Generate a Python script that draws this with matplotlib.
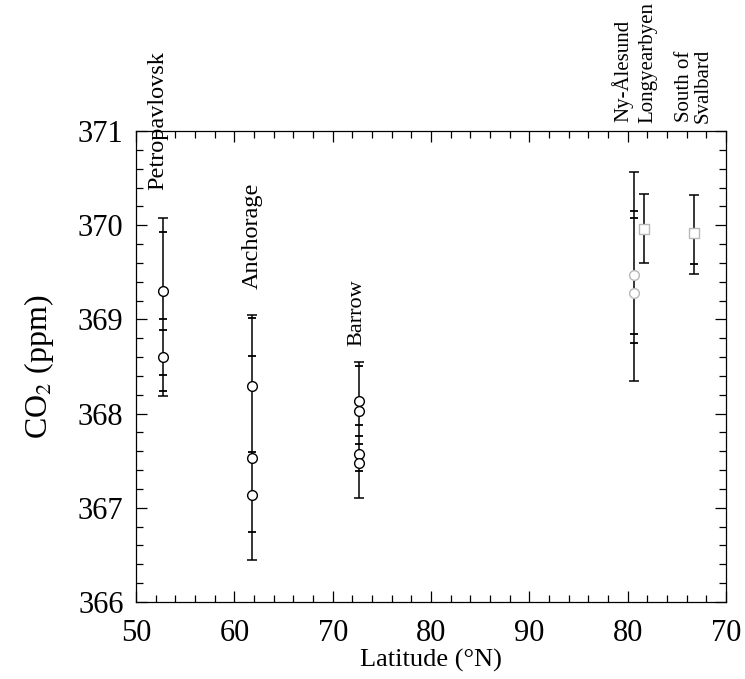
import matplotlib
matplotlib.use("Agg")
import matplotlib.pyplot as plt
from matplotlib.ticker import MultipleLocator, FuncFormatter

plt.rcParams['font.family'] = ['Liberation Serif', 'DejaVu Serif']
plt.rcParams['mathtext.fontset'] = 'stix'

# ---- data (position on folded latitude axis: >90 means back down the other side) ----
stations = ["Petropavlovsk", "Anchorage", "Barrow", "Ny-Ålesund", "Longyearbyen", "South of\nSvalbard"]
x_pos = [52.7, 61.8, 72.7, 100.6, 101.7, 106.7]
range_low = [368.19, 366.45, 367.10, 368.35, 369.60, 369.48]
range_high = [370.08, 369.05, 368.55, 370.56, 370.33, 370.32]
circle_vals = [
    [369.30, 368.60],
    [368.29, 367.53, 367.14],
    [368.13, 368.03, 367.57, 367.48],
    [369.47, 369.28],
    [369.96],
    [369.92],
]
tick_vals = [
    [369.93, 369.00, 368.89, 368.41, 368.24],
    [369.02, 368.61, 367.59, 366.74],
    [368.50, 367.88, 367.76, 367.68, 367.39],
    [370.15, 370.08, 368.85, 368.75],
    [],
    [369.59],
]
faint = [False, False, False, True, True, True]
marker_shape = ['o', 'o', 'o', 'o', 's', 's']
label_y = [370.37, 369.32, 368.72, 371.10, 371.08, 371.08]
label_dx = [-0.5, 0.0, -0.2, -1.1, 0.3, 0.0]
label_size = [17.5, 17.5, 16, 15, 15, 15]
x_ticks = [50, 60, 70, 80, 90, 100, 110]

fig = plt.figure(figsize=(7.45, 6.79), dpi=100)
ax = fig.add_axes([0.1826, 0.1134, 0.792, 0.6937])

for i, st in enumerate(stations):
    x = x_pos[i]
    ax.errorbar([x], [(range_low[i] + range_high[i]) / 2],
                yerr=[[(range_high[i] - range_low[i]) / 2]],
                fmt='none', ecolor='black', elinewidth=1.1, capsize=3.5, capthick=1.1)
    if tick_vals[i]:
        ax.plot([x] * len(tick_vals[i]), tick_vals[i], linestyle='none',
                marker='_', markersize=6, markeredgewidth=1.3, color='black')
    ec = '#b8b8b8' if faint[i] else 'black'
    ax.plot([x] * len(circle_vals[i]), circle_vals[i], linestyle='none',
            marker=marker_shape[i], markersize=7, markerfacecolor='white',
            markeredgecolor=ec, markeredgewidth=1.0)
    ax.text(x + label_dx[i], label_y[i], st, rotation=90, ha='center', va='bottom',
            fontsize=label_size[i], clip_on=False, linespacing=0.95)

ax.set_xlim(50, 110)
ax.set_ylim(366, 371)
ax.set_xticks(x_ticks)
ax.xaxis.set_major_formatter(FuncFormatter(lambda v, p: f"{int(round(v)) if v <= 90 else int(round(180 - v))}"))
ax.xaxis.set_minor_locator(MultipleLocator(2))
ax.yaxis.set_major_locator(MultipleLocator(1))
ax.yaxis.set_minor_locator(MultipleLocator(0.2))
ax.tick_params(which='both', direction='in', top=True, right=True, labelsize=22, width=0.9)
ax.tick_params(which='major', length=8)
ax.tick_params(which='minor', length=5)
ax.tick_params(axis='x', which='major', pad=12)
ax.tick_params(axis='y', which='major', pad=9)
for s in ax.spines.values():
    s.set_linewidth(0.9)

ax.set_xlabel("Latitude (°N)", fontsize=19, labelpad=1)
ax.set_ylabel("CO$_{2}$ (ppm)", fontsize=23, labelpad=16)

fig.savefig("out.png", dpi=100)
